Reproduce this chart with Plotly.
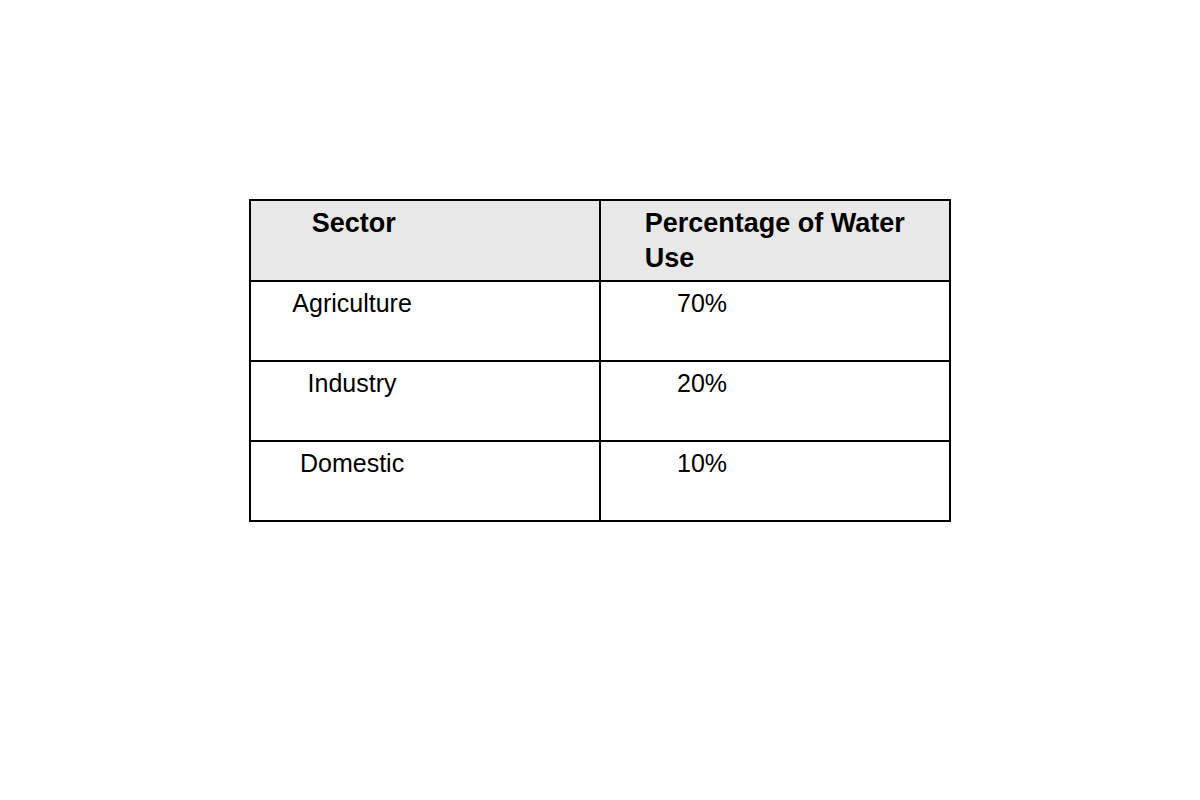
import plotly.graph_objects as go

header = ["Sector", "Percentage of Water Use"]
sectors = ["Agriculture", "Industry", "Domestic"]
percentages = ["70%", "20%", "10%"]

pad_h = "&nbsp;" * 19
pad_c = "&nbsp;" * 21

fig = go.Figure(go.Table(
    domain=dict(x=[162/1040, 862/1040], y=[0, 1]),
    header=dict(values=["<b>" + h + "</b>" + pad_h for h in header], fill_color="#e8e8e8",
                line=dict(color="black", width=2),
                align="center", height=60, font=dict(family="Liberation Sans, Arial", size=27, color="black")),
    cells=dict(values=[[s + pad_c for s in sectors], [p + pad_c for p in percentages]],
               fill_color="white", line=dict(color="black", width=2),
               align="center", height=80, font=dict(family="Liberation Sans, Arial", size=25, color="black")),
))
fig.update_layout(width=1200, height=800, margin=dict(l=80, r=80, t=192, b=80),
                  paper_bgcolor="white")
fig.write_html("out.html")
